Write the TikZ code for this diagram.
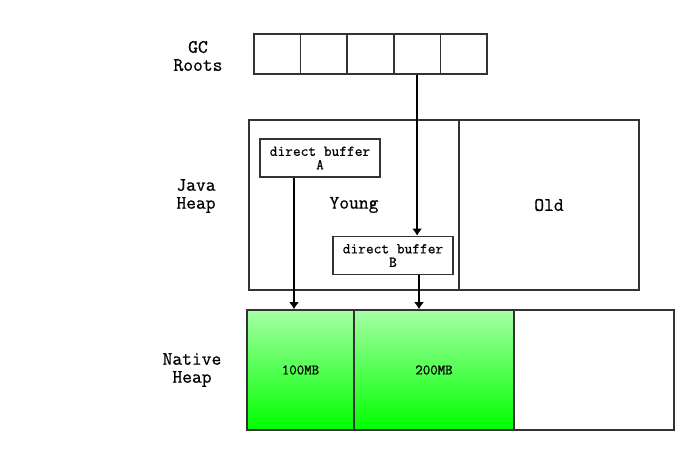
\documentclass[tikz,border=0pt]{standalone}
\usepackage{fontspec}
\usetikzlibrary{arrows.meta}
\newfontfamily\typefont{Latin Modern Mono}[FakeBold=0.7]
\definecolor{lightgreen}{RGB}{165,255,165}
\definecolor{edge}{RGB}{51,51,51}
\tikzset{
  cell/.style={draw=edge, line width=1.6pt, inner sep=0pt},
  label/.style={align=center, font=\typefont\fontsize{19}{18}\selectfont},
  buffer/.style={cell, fill=white, align=center, minimum width=120pt, minimum height=38pt, font=\typefont\fontsize{15}{13.5}\selectfont},
  native/.style={cell, minimum height=120pt, top color=lightgreen, bottom color=green, font=\typefont\fontsize{14.5}{14}\selectfont},
  link/.style={-{Latex[length=7pt,width=10pt]}, line width=1.5pt}
}
\begin{document}
\begin{tikzpicture}[x=1pt, y=-1pt]
\useasboundingbox (0,0) rectangle (694,450);
\node[label] (gclabel) at (198,56) {GC\\Roots};
\node[label] (javalabel) at (196,196) {Java\\Heap};
\node[label] (nativelabel) at (192,370) {Native\\Heap};
%%%%%%%%%%%%%
\foreach \i in {0,...,4}
  \node[cell, minimum width=46.6pt, minimum height=40pt] (root\i) at (277.3+46.6*\i,54) {};
%%%%%%%%%%%%%
\node[cell, minimum width=210pt, minimum height=170pt, font=\typefont\fontsize{19}{18}\selectfont] (young) at (354,205) {Young};
\node[cell, minimum width=180pt, minimum height=170pt, font=\typefont\fontsize{19}{18}\selectfont] (old) at (549,205) {Old};
\node[buffer] (bufa) at (320,158) {direct buffer\\A};
\node[buffer] (bufb) at (393,255.5) {direct buffer\\B};
%%%%%%%%%%%%%
\node[native, minimum width=107pt] (heapa) at (300.5,370) {100MB};
\node[native, minimum width=160pt] (heapb) at (434,370) {200MB};
\node[cell, minimum width=160pt, minimum height=120pt] (heapfree) at (594,370) {};
%%%%%%%%%%%%%
\draw[link] (root3.south) -- (root3.south |- bufb.north);
\draw[link] ([xshift=-26pt]bufa.south) -- ([xshift=-26pt]bufa.south |- heapa.north);
\draw[link] ([xshift=26pt]bufb.south) -- ([xshift=26pt]bufb.south |- heapb.north);
\end{tikzpicture}
\end{document}
